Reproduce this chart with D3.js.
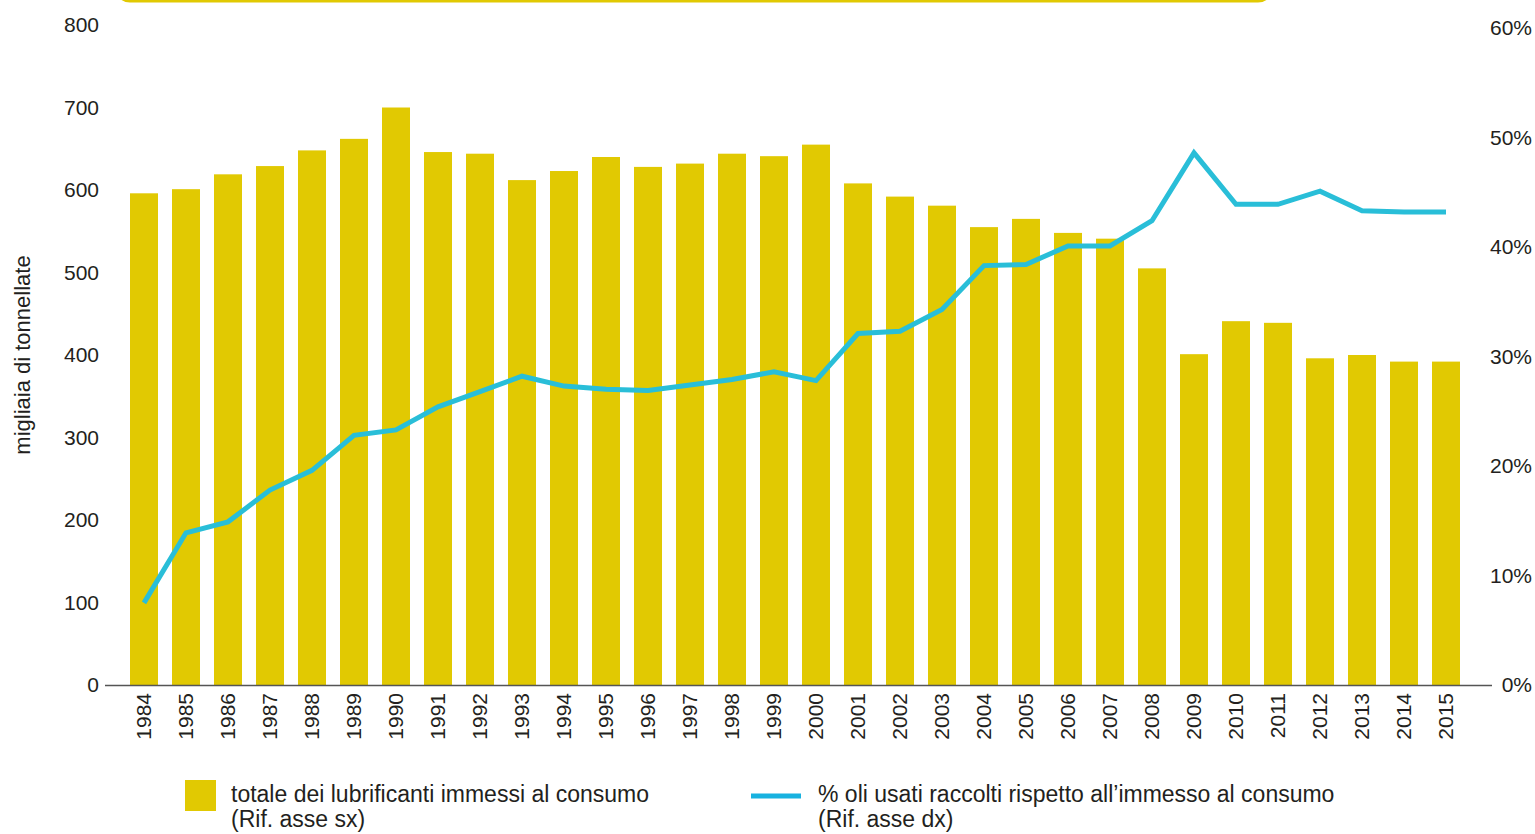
<!DOCTYPE html>
<html>
<head>
<meta charset="utf-8">
<script src="https://cdn.jsdelivr.net/npm/d3@7"></script>
<style>
  body { margin: 0; background: #fff; }
  svg { display: block; font-family: "Liberation Sans", Arial, sans-serif; }
  .tick text { fill: #231f20; }
</style>
</head>
<body>
<svg width="1535" height="834"></svg>
<script>
var years = ["1984","1985","1986","1987","1988","1989","1990","1991","1992","1993",
             "1994","1995","1996","1997","1998","1999","2000","2001","2002","2003",
             "2004","2005","2006","2007","2008","2009","2010","2011","2012","2013",
             "2014","2015"];

// totale dei lubrificanti immessi al consumo (migliaia di tonnellate)
var lubricants = [596, 601, 619, 629, 648, 662, 700, 646, 644, 612,
                  623, 640, 628, 632, 644, 641, 655, 608, 592, 581,
                  555, 565, 548, 541, 505, 401, 441, 439, 396, 400,
                  392, 392];

// % oli usati raccolti rispetto all'immesso al consumo
var collected = [7.5, 13.9, 14.9, 17.8, 19.6, 22.8, 23.3, 25.4, 26.8, 28.2,
                 27.3, 27.0, 26.9, 27.4, 27.9, 28.6, 27.8, 32.1, 32.3, 34.3,
                 38.3, 38.4, 40.1, 40.1, 42.4, 48.6, 43.9, 43.9, 45.1, 43.3,
                 43.2, 43.2];

var leftTicks = [0, 100, 200, 300, 400, 500, 600, 700, 800];
var rightTicks = [0, 10, 20, 30, 40, 50, 60];

var legendLabels = [
  ["totale dei lubrificanti immessi al consumo", "(Rif. asse sx)"],
  ["% oli usati raccolti rispetto all\u2019immesso al consumo", "(Rif. asse dx)"]
];

var svg = d3.select("svg");
var barColor = "#e1c902",
    lineColor = "#29bed8";

var x = d3.scaleBand().domain(years).range([123, 1467])
    .paddingInner(1 / 3).paddingOuter(1 / 6);
var yL = d3.scaleLinear().domain([0, 800]).range([685, 25]);
var yR = d3.scaleLinear().domain([0, 60]).range([685, 28]);

// top frame edge (box cropped above the picture)
svg.append("rect")
    .attr("x", 116).attr("y", -60)
    .attr("width", 1156).attr("height", 61)
    .attr("rx", 14)
    .attr("fill", "none")
    .attr("stroke", barColor)
    .attr("stroke-width", 3);

// bars
svg.append("g").selectAll("rect")
  .data(years)
  .enter().append("rect")
    .attr("x", function(d) { return x(d); })
    .attr("y", function(d, i) { return yL(lubricants[i]); })
    .attr("width", x.bandwidth())
    .attr("height", function(d, i) { return yL(0) - yL(lubricants[i]); })
    .attr("fill", barColor);

// baseline
svg.append("line")
    .attr("x1", 105).attr("x2", 1492)
    .attr("y1", yL(0) + 0.5).attr("y2", yL(0) + 0.5)
    .attr("stroke", "#555")
    .attr("stroke-width", 1.3);

// left axis
svg.append("g")
    .attr("transform", "translate(99,0)")
    .call(d3.axisLeft(yL).tickValues(leftTicks).tickSize(0).tickPadding(0))
    .call(function(g) { g.select(".domain").remove(); })
    .selectAll("text")
      .style("font-size", "21px");

// right axis
svg.append("g")
    .attr("transform", "translate(1532,0)")
    .call(d3.axisLeft(yR).tickValues(rightTicks).tickSize(0).tickPadding(0)
      .tickFormat(function(d) { return d + "%"; }))
    .call(function(g) { g.select(".domain").remove(); })
    .selectAll("text")
      .style("font-size", "21px");

// x axis labels
svg.append("g")
    .attr("transform", "translate(0," + 693 + ")")
    .call(d3.axisBottom(x).tickSize(0).tickPadding(0))
    .call(function(g) { g.select(".domain").remove(); })
    .selectAll("text")
      .style("font-size", "21px")
      .attr("text-anchor", "end")
      .attr("transform", "rotate(-90)")
      .attr("x", 0)
      .attr("y", 0)
      .attr("dy", "0.35em");

// y title
svg.append("text")
    .attr("transform", "translate(30,355) rotate(-90)")
    .attr("text-anchor", "middle")
    .style("font-size", "22px")
    .attr("fill", "#231f20")
    .text("migliaia di tonnellate");

// line
var line = d3.line()
    .x(function(d, i) { return x(years[i]) + x.bandwidth() / 2; })
    .y(function(d) { return yR(d); });

svg.append("path")
    .datum(collected)
    .attr("d", line)
    .attr("fill", "none")
    .attr("stroke", lineColor)
    .attr("stroke-width", 5)
    .attr("stroke-linejoin", "miter");

// legend
var legend = svg.append("g").style("font-size", "23px").attr("fill", "#231f20");

legend.append("rect")
    .attr("x", 185).attr("y", 780)
    .attr("width", 31).attr("height", 31)
    .attr("fill", barColor);

legend.append("line")
    .attr("x1", 751).attr("x2", 801)
    .attr("y1", 796).attr("y2", 796)
    .attr("stroke", "#18b2e0")
    .attr("stroke-width", 5);

var legendX = [231, 818];
legendLabels.forEach(function(lines, k) {
  var t = legend.append("text").attr("x", legendX[k]).attr("y", 802);
  lines.forEach(function(s, j) {
    t.append("tspan").attr("x", legendX[k]).attr("dy", j ? 25 : 0).text(s);
  });
});
</script>
</body>
</html>
